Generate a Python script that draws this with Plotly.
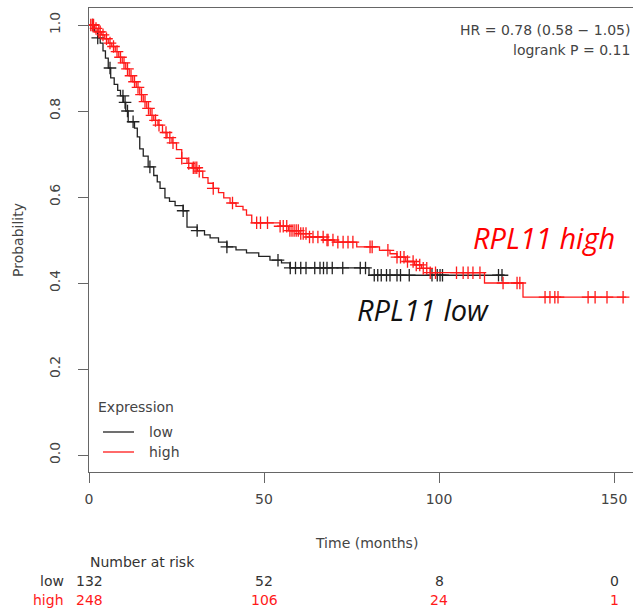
import numpy as np
import plotly.graph_objects as go

# ---------------- data ----------------
low_times = [0, 1.5, 2.5, 3.2, 4.0, 4.7, 5.5, 6.2, 7.2, 8.2, 9.0, 9.8, 10.5, 11.2, 13.0,
             13.8, 14.5, 15.5, 16.9, 18.5, 19.5, 20.3, 21.7, 23.0, 24.6, 26.9, 28.0, 30.9,
             33.0, 34.6, 37.0, 39.4, 42.0, 45.0, 48.5, 51.7, 55.0, 57.4, 80.0]
low_surv = [1.0, 0.985, 0.97, 0.958, 0.94, 0.923, 0.90, 0.877, 0.862, 0.848, 0.835, 0.82,
            0.80, 0.775, 0.76, 0.74, 0.712, 0.695, 0.67, 0.65, 0.635, 0.62, 0.598, 0.59,
            0.58, 0.568, 0.53, 0.522, 0.512, 0.505, 0.495, 0.484, 0.477, 0.47, 0.462,
            0.453, 0.447, 0.435, 0.418]
low_end = 118.5
low_censor = [1.0, 2.5, 6.0, 9.7, 10.3, 11.0, 12.6, 17.4, 26.9, 30.9, 39.4, 54.0, 57.5,
              59.0, 60.5, 62.0, 64.5, 66.0, 67.0, 68.0, 69.5, 72.5, 77.5, 79.0, 81.5,
              82.5, 83.5, 85.0, 86.0, 88.0, 89.0, 91.5, 98.0, 99.5, 100.3, 101.0, 117.0,
              118.0]

high_times = [0, 1.5, 2.5, 3.5, 4.5, 5.5, 6.5, 7.5, 8.5, 9.5, 10.5, 11.5, 12.5, 13.5, 14.5,
              15.5, 16.5, 17.5, 18.5, 19.7, 21.0, 22.3, 23.7, 25.0, 26.5, 28.0, 29.5, 31.0,
              32.5, 34.0, 35.5, 37.0, 38.5, 40.3, 42.0, 44.0, 45.0, 46.5, 54.6, 57.0, 60.0,
              63.0, 67.0, 70.0, 76.5, 83.0, 86.0, 88.0, 90.5, 93.0, 95.0, 97.5, 113.0, 124.0]
high_surv = [1.0, 0.992, 0.984, 0.977, 0.968, 0.958, 0.95, 0.938, 0.925, 0.912, 0.898, 0.882,
             0.868, 0.855, 0.838, 0.822, 0.806, 0.79, 0.778, 0.767, 0.75, 0.738, 0.726, 0.71,
             0.69, 0.678, 0.668, 0.66, 0.645, 0.632, 0.62, 0.61, 0.598, 0.586, 0.578, 0.57,
             0.558, 0.54, 0.532, 0.522, 0.515, 0.507, 0.50, 0.495, 0.484, 0.476, 0.468,
             0.46, 0.45, 0.442, 0.434, 0.424, 0.40, 0.367]
high_end = 153.5
high_censor = [0.5, 1.0, 1.3, 2.0, 2.8, 3.2, 4.0, 5.0, 6.0, 7.0, 8.0, 9.0, 10.0, 11.0, 12.0,
               13.0, 14.0, 15.0, 16.0, 17.0, 18.0, 19.0, 20.0, 22.0, 23.1, 24.0, 26.5, 28.5,
               29.8, 30.3, 30.8, 31.5, 35.5, 41.0, 47.9, 49.0, 51.0, 54.6, 55.5, 56.5, 57.4,
               58.0, 58.6, 59.2, 59.8, 60.5, 61.2, 62.0, 63.0, 64.0, 65.4, 66.9, 68.0, 68.3,
               69.7, 71.1, 72.6, 74.0, 75.4, 80.3, 80.9, 85.4, 88.0, 89.0, 90.0, 91.0, 92.6,
               93.5, 94.5, 95.5, 96.5, 97.5, 99.0, 105.0, 106.9, 108.3, 109.7, 111.7, 118.3,
               122.3, 123.1, 130.3, 131.7, 133.1, 134.0, 142.6, 144.6, 148.0, 152.6]

risk_times = [0, 50, 100, 150]
risk_low = [132, 52, 8, 0]
risk_high = [248, 106, 24, 1]

x_ticks = [0, 50, 100, 150]
y_ticks = [0.0, 0.2, 0.4, 0.6, 0.8, 1.0]

hr_text = "HR = 0.78 (0.58 \u2212 1.05)"
p_text = "logrank P = 0.11"

# ---------------- styling helpers ----------------
W, H = 633, 615
L, R, T, B = 89, 0, 8, 143
PW, PH = W - L - R, H - T - B
def px(xp):
    return (xp - L) / PW
def py(yp):
    return (H - B - yp) / PH

BLACK = "#222222"
RED = "#ff1a1a"
TXT = "#444444"
FONT = "DejaVu Sans"

def step_value(times, surv, t):
    i = np.searchsorted(np.asarray(times), t, side="right") - 1
    return np.asarray(surv)[i]

fig = go.Figure()
for times, surv, end, cens, col in [
    (low_times, low_surv, low_end, low_censor, BLACK),
    (high_times, high_surv, high_end, high_censor, RED),
]:
    xs = list(times) + [end]
    ys = list(surv) + [surv[-1]]
    fig.add_trace(go.Scatter(x=xs, y=ys, mode="lines", line=dict(color=col, width=1.3, shape="hv"),
                             showlegend=False, hoverinfo="skip"))
    cy = [step_value(times, surv, t) for t in cens]
    fig.add_trace(go.Scatter(x=cens, y=cy, mode="markers",
                             marker=dict(symbol="cross-thin", size=9, line=dict(color=col, width=1.3)),
                             showlegend=False, hoverinfo="skip"))

ann = []
def A(text, x, y, xanchor="center", yanchor="middle", color=TXT, size=14, family=FONT,
      xref="paper", textangle=0):
    ann.append(dict(text=text, x=x, y=y, xref=xref, yref="paper", xanchor=xanchor,
                    yanchor=yanchor, showarrow=False, textangle=textangle,
                    font=dict(color=color, size=size, family=family)))

A(hr_text, px(632), py(30), xanchor="right")
A(p_text, px(632), py(50), xanchor="right")
A("<i>RPL11 high</i>", px(471), py(237), xanchor="left", color="#ff0000", size=29, family="Open Sans")
A("<i>RPL11 low</i>", px(355), py(309), xanchor="left", color="#111111", size=29, family="Open Sans")
A("Expression", px(96), py(407), xanchor="left")
A("low", px(147), py(432), xanchor="left")
A("high", px(147), py(452), xanchor="left")
A("Probability", px(18), py(240), textangle=-90)
A("Time (months)", px(366), py(543))
A("Number at risk", px(88), py(562), xanchor="left", color="#333333")
A("low", px(66), py(581), xanchor="right", color="#333333")
A("high", px(66), py(600), xanchor="right", color=RED)
for t, a, b in zip(risk_times, risk_low, risk_high):
    A(str(a), t, py(581), xref="x", color="#333333")
    A(str(b), t, py(600), xref="x", color=RED)

shapes = [
    dict(type="line", xref="paper", yref="paper", x0=px(103), x1=px(134), y0=py(432), y1=py(432),
         line=dict(color=BLACK, width=1.3)),
    dict(type="line", xref="paper", yref="paper", x0=px(103), x1=px(134), y0=py(452), y1=py(452),
         line=dict(color=RED, width=1.3)),
]

fig.update_layout(
    width=W, height=H, margin=dict(l=L, r=R, t=T, b=B, pad=0),
    paper_bgcolor="white", plot_bgcolor="white",
    annotations=ann, shapes=shapes, showlegend=False,
    font=dict(family=FONT, size=14, color=TXT),
)
fig.update_xaxes(range=[0, (W - L - R) / 3.5], tickvals=x_ticks, ticktext=[str(v) for v in x_ticks],
                 showline=True, linecolor="#666666", linewidth=1.3, mirror=True,
                 ticks="outside", ticklen=10, tickcolor="#666666", tickwidth=1.3,
                 showgrid=False, zeroline=False, ticklabelstandoff=4,
                 tickfont=dict(family=FONT, size=14, color=TXT))
fig.update_yaxes(range=[-17 / 430, 447 / 430], tickvals=y_ticks,
                 ticktext=["%.1f" % v for v in y_ticks], tickangle=-90,
                 showline=True, linecolor="#666666", linewidth=1.3, mirror=False,
                 ticks="outside", ticklen=10, tickcolor="#666666", tickwidth=1.3,
                 showgrid=False, zeroline=False, ticklabelstandoff=12,
                 tickfont=dict(family=FONT, size=14, color=TXT))

fig.write_html("out.html", config={"displayModeBar": False},
               post_script="document.body.style.margin='0';document.body.style.overflow='hidden';")
